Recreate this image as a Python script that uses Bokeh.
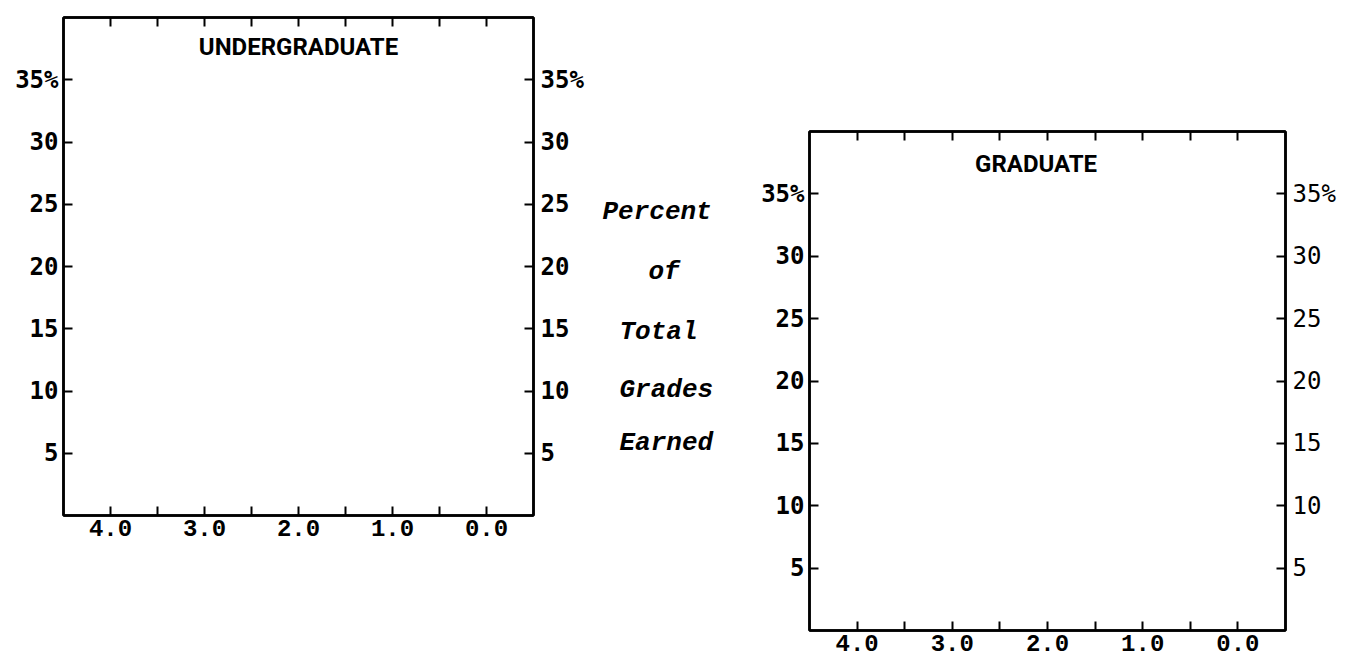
from bokeh.plotting import figure
from bokeh.models import LinearAxis, FixedTicker, Range1d, Label, Spacer
from bokeh.layouts import row, column
from bokeh.core.properties import value
from bokeh.embed import file_html
from bokeh.resources import INLINE

# ---- data ----
grade_points = [4.0, 3.0, 2.0, 1.0, 0.0]          # labelled x ticks
grade_half_points = [3.5, 2.5, 1.5, 0.5]          # unlabelled x ticks
grade_labels = ["4.0", "3.0", "2.0", "1.0", "0.0"]
percent_ticks = [5, 10, 15, 20, 25, 30, 35]
percent_labels = ["5", "10", "15", "20", "25", "30", "35%"]
panel_titles = ["UNDERGRADUATE", "GRADUATE"]
side_words = ["Percent", "of", "Total", "Grades", "Earned"]

X_RANGE = (4.5, -0.5)
Y_RANGE = (0, 40)

# layout (pixels)
side_word_x = [12, 58, 29, 29, 29]
side_word_y = [213, 278, 344, 408, 466]


def axis_set(p, yfont, ysize, xfont, xsize, right_style="bold"):
    xt = dict(ticks=grade_points, minor_ticks=grade_half_points)
    xlab = {v: s for v, s in zip(grade_points, grade_labels)}
    ylab = {v: s for v, s in zip(percent_ticks, percent_labels)}
    common = dict(axis_line_color="black", axis_line_width=2.5,
                  major_tick_line_color="black", major_tick_line_width=2,
                  minor_tick_line_color="black", minor_tick_line_width=2,
                  major_tick_in=9, major_tick_out=0,
                  minor_tick_in=9, minor_tick_out=0)
    below = LinearAxis(ticker=FixedTicker(**xt), major_label_overrides=xlab,
                       major_label_text_font=xfont, major_label_text_font_size=xsize,
                       major_label_text_font_style="bold", major_label_text_color="black",
                       major_label_standoff=4, **common)
    above = LinearAxis(ticker=FixedTicker(**xt),
                       major_label_overrides={v: "" for v in grade_points},
                       major_label_text_font_size="1px",
                       major_label_standoff=0, **common)
    left = LinearAxis(ticker=FixedTicker(ticks=percent_ticks), major_label_overrides=ylab,
                      major_label_text_font=yfont, major_label_text_font_size=ysize,
                      major_label_text_font_style="bold", major_label_text_color="black",
                      major_label_standoff=5, **common)
    right = LinearAxis(ticker=FixedTicker(ticks=percent_ticks), major_label_overrides=ylab,
                       major_label_text_font=yfont, major_label_text_font_size=ysize,
                       major_label_text_font_style=right_style, major_label_text_color="black",
                       major_label_standoff=7, **common)
    p.add_layout(below, "below")
    p.add_layout(above, "above")
    p.add_layout(left, "left")
    p.add_layout(right, "right")


def panel(width, height, bl, br, bt, bb):
    p = figure(width=width, height=height,
               x_range=Range1d(*X_RANGE), y_range=Range1d(*Y_RANGE),
               x_axis_location=None, y_axis_location=None,
               output_backend="svg", toolbar_location=None,
               min_border_left=bl, min_border_right=br,
               min_border_top=bt, min_border_bottom=bb)
    p.xgrid.visible = False
    p.ygrid.visible = False
    p.outline_line_color = "black"
    p.outline_line_width = 2.5
    p.outline_line_alpha = 1.0
    p.background_fill_color = "white"
    p.border_fill_color = "white"
    return p


# ---- undergraduate panel ----
p1 = panel(590, 555, 63, 57, 17, 40)
axis_set(p1, "DejaVu Sans Mono", "24px", "Liberation Mono", "24px")
p1.add_layout(Label(x=2.0, y=37.6, text=panel_titles[0], text_align="center",
                    text_baseline="middle", text_font="Roboto",
                    text_font_size="24px", text_font_style="bold", text_color="black"))

# ---- centre caption ----
pm = figure(width=150, height=662, x_range=Range1d(0, 150), y_range=Range1d(662, 0),
            x_axis_location=None, y_axis_location=None,
            output_backend="svg", toolbar_location=None, min_border=0)
pm.xgrid.visible = False
pm.ygrid.visible = False
pm.outline_line_color = None
pm.text(x=side_word_x, y=side_word_y, text=side_words,
        text_font=value("Liberation Mono"), text_font_size=value("26px"),
        text_font_style="bold italic", text_color="black",
        text_align="left", text_baseline="middle")

# ---- graduate panel ----
p2 = panel(603, 548, 69, 58, 17, 32)
axis_set(p2, "DejaVu Sans Mono", "24px", "Liberation Mono", "24px", right_style="normal")
p2.add_layout(Label(x=2.12, y=37.4, text=panel_titles[1], text_align="center",
                    text_baseline="middle", text_font="Roboto",
                    text_font_size="24px", text_font_style="bold", text_color="black"))

layout = row(p1, pm, column(Spacer(height=114, width=10), p2))

open("out.html", "w").write(file_html(layout, INLINE))
